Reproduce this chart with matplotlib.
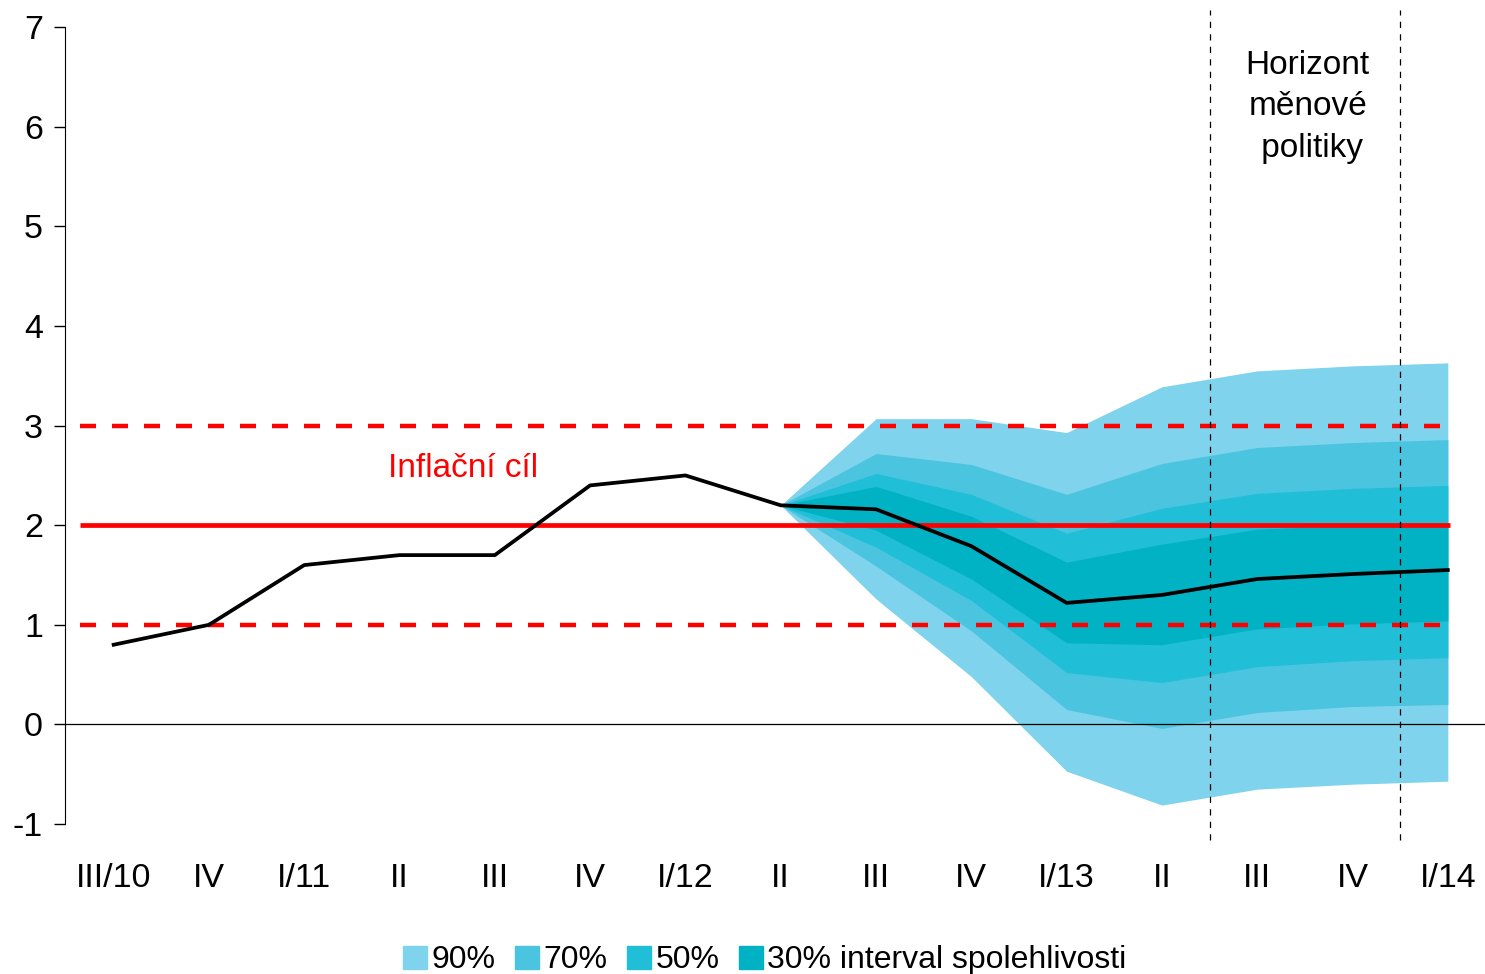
import numpy as np
import matplotlib
matplotlib.use("Agg")
from matplotlib import pyplot as plt
from matplotlib.patches import Patch

plt.rcParams['font.family'] = ['Liberation Sans', 'DejaVu Sans']
plt.rcParams['axes.unicode_minus'] = False

labels = ['III/10', 'IV', 'I/11', 'II', 'III', 'IV', 'I/12', 'II',
          'III', 'IV', 'I/13', 'II', 'III', 'IV', 'I/14']

# actual + central forecast
inflation = [0.8, 1.0, 1.6, 1.7, 1.7, 2.4, 2.5, 2.2,
             2.16, 1.79, 1.22, 1.30, 1.46, 1.51, 1.55]

# fan bands, forecast part starts at II/12
upper90 = [2.2, 3.07, 3.07, 2.93, 3.39, 3.55, 3.60, 3.63]
upper70 = [2.2, 2.72, 2.61, 2.31, 2.62, 2.78, 2.83, 2.86]
upper50 = [2.2, 2.52, 2.31, 1.92, 2.17, 2.32, 2.37, 2.40]
upper30 = [2.2, 2.39, 2.09, 1.63, 1.81, 1.96, 2.00, 2.01]
lower30 = [2.2, 1.95, 1.46, 0.82, 0.80, 0.96, 1.01, 1.04]
lower50 = [2.2, 1.78, 1.245, 0.52, 0.42, 0.58, 0.64, 0.67]
lower70 = [2.2, 1.59, 0.94, 0.15, -0.04, 0.12, 0.18, 0.20]
lower90 = [2.2, 1.26, 0.48, -0.47, -0.81, -0.65, -0.60, -0.57]

target = 2.0
tolerance = [1.0, 3.0]
horizon = [11.5, 13.5]

colors = ['#7fd3ec', '#4bc4e0', '#21bed7', '#00b2c4']

fig = plt.figure(figsize=(14.85, 9.74), dpi=100)
ax = fig.add_axes([0.0438, 0.154, 0.9562, 0.818])

x = np.arange(len(labels))
xf = x[7:]

ax.fill_between(xf, lower90, upper90, color=colors[0], lw=0)
ax.fill_between(xf, lower70, upper70, color=colors[1], lw=0)
ax.fill_between(xf, lower50, upper50, color=colors[2], lw=0)
ax.fill_between(xf, lower30, upper30, color=colors[3], lw=0)

ax.axhline(0, color='black', lw=0.9)

xr = [-0.35, 14.02]
ax.plot(xr, [target, target], color='#ff0000', lw=3.4, solid_capstyle='butt')
for t in tolerance:
    ax.plot(xr, [t, t], color='#ff0000', lw=3.2, dashes=(3.6, 3.6))

ax.plot(x, inflation, color='black', lw=2.7)

for h in horizon:
    ax.axvline(h, ymin=-0.02, ymax=1.022, color='black', lw=0.9,
               dashes=(5, 5), clip_on=False)

ax.text(3.67, 2.57, 'Inflační cíl', color='#ff0000', fontsize=24,
        ha='center', va='center')
ax.text(12.53, 6.2, 'Horizont\nměnové\n politiky', fontsize=24,
        ha='center', va='center', linespacing=1.42)

ax.set_xlim(-0.51, 14.39)
ax.set_ylim(-1, 7)
ax.set_yticks(range(-1, 8))
ax.set_xticks(x)
ax.set_xticklabels(labels)
ax.tick_params(axis='x', length=0, pad=28, labelsize=24.5)
ax.tick_params(axis='y', direction='out', length=8, width=1, pad=8, labelsize=24.5)
for s in ['top', 'right', 'bottom']:
    ax.spines[s].set_visible(False)

handles = [Patch(color=c) for c in colors]
names = ['90%', '70%', '50%', '30% interval spolehlivosti']
fig.legend(handles, names, loc='lower center', bbox_to_anchor=(0.515, -0.031),
           ncol=4, frameon=False, fontsize=23, handlelength=0.75,
           handleheight=0.75, handletextpad=0.15, columnspacing=0.6)

fig.savefig('out.png', dpi=100)
